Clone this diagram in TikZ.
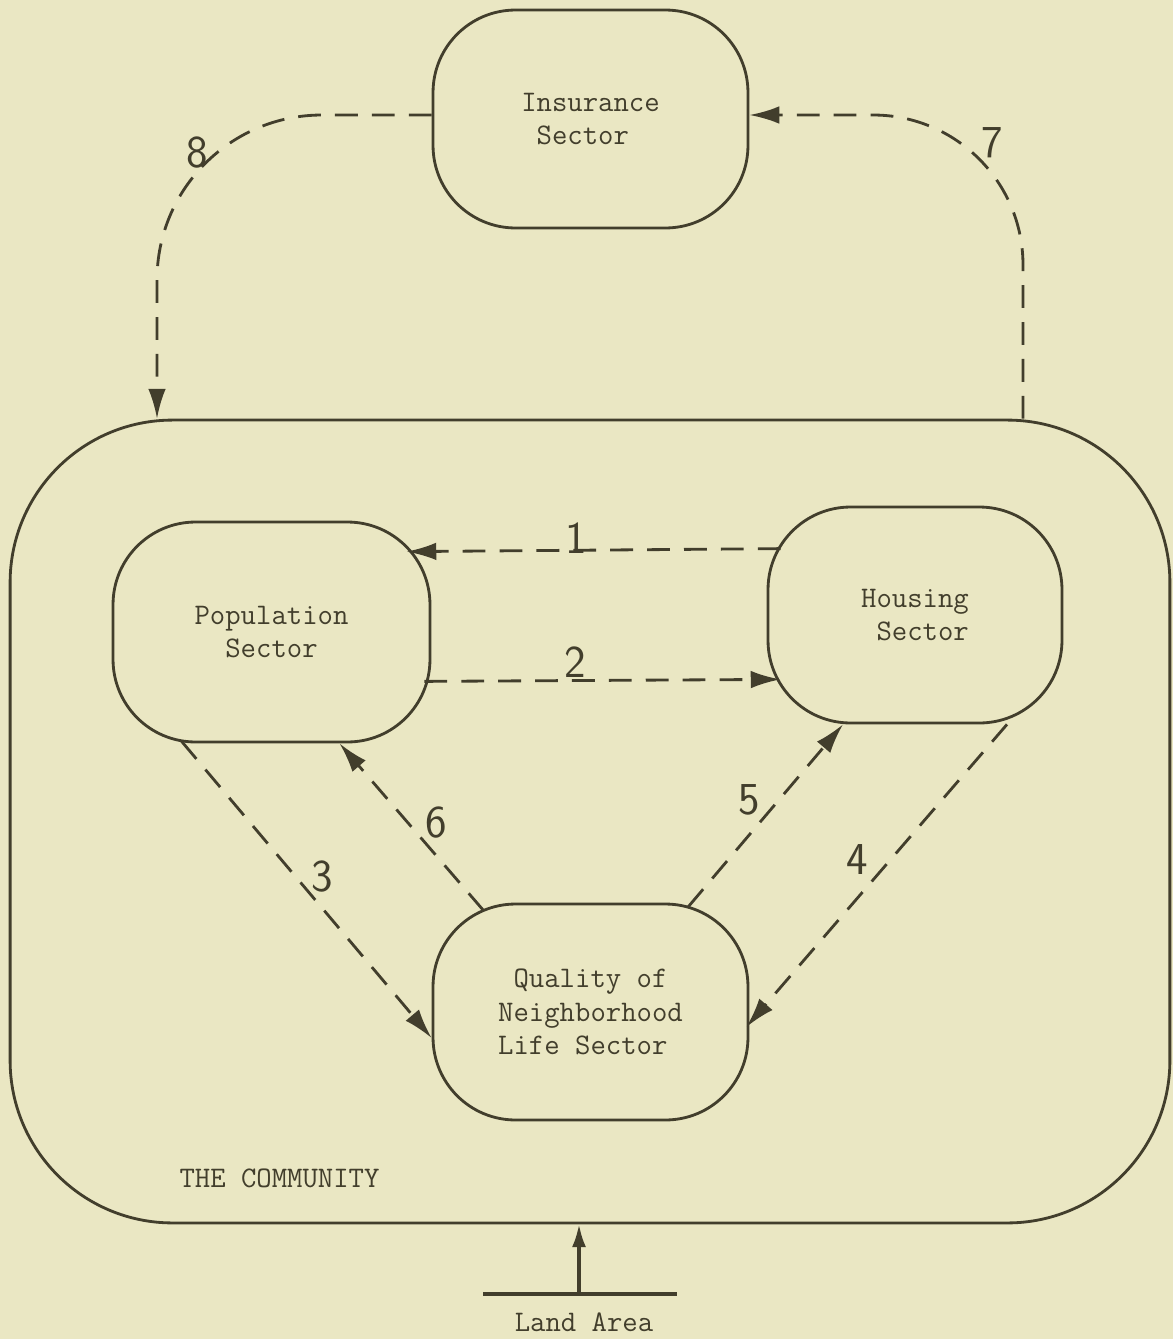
\documentclass[tikz,border=0pt]{standalone}
\usetikzlibrary{arrows.meta,calc}
\definecolor{paper}{RGB}{234,231,195}
\definecolor{ink}{RGB}{66,62,44}
\begin{document}
\begin{tikzpicture}[x=.02cm,y=-.02cm,
                    sector/.style={draw=ink,line width=1.6pt,rounded corners=1.65cm,
                                   inner sep=0pt,align=left,text=ink,
                                   font=\fontsize{17}{19}\ttfamily},
                    caption/.style={text=ink,font=\fontsize{17}{19}\ttfamily},
                    flow/.style={draw=ink,line width=1.6pt,dash pattern=on 13pt off 8pt,
                                 -{Latex[length=17pt,width=10pt]}},
                    num/.style={text=ink,font=\fontsize{26}{26}\sffamily}]
 \path[use as bounding box,fill=paper] (0,0) rectangle (1173,1339);
 \node[sector,minimum width=23.2cm,minimum height=16.06cm,rounded corners=3.25cm]
      (comm) at (590,821.5) {};
 \node[caption] (title) at (279.5,1178) {THE COMMUNITY};
 \node[sector,minimum width=6.3cm,minimum height=4.36cm] (ins) at (590.5,119)
      {Insurance\\\hphantom{I}Sector};
 \node[sector,minimum width=6.34cm,minimum height=4.4cm] (pop) at (271.5,632)
      {Population\\\hphantom{Po}Sector};
 \node[sector,minimum width=5.88cm,minimum height=4.32cm] (house) at (915,615)
      {Housing\\\hphantom{H}Sector};
 \node[sector,minimum width=6.3cm,minimum height=4.32cm] (qual) at (590.5,1012)
      {\hphantom{Q}Quality of\\Neighborhood\\Life Sector};
 \draw[flow] ($(house.north west)+(14,43)$) -- ($(pop.north east)+(-25,31)$);
 \draw[flow] ($(pop.south east)+(-7,-62)$) -- ($(house.south west)+(14,-45)$);
 \draw[flow] ($(pop.south west)+(70,-2)$) -- ($(qual.west)+(0,26)$);
 \draw[flow] ($(house.south)+(92,0)$) -- ($(qual.east)+(-3,15)$);
 \draw[flow] ($(qual.north east)+(-61,4)$) -- ($(house.south)+(-72,0)$);
 \draw[flow] ($(qual.north west)+(52,8)$) -- ($(pop.south)+(68,0)$);
 \draw[flow,rounded corners=3cm] ($(comm.north)+(433,0)$) |- ($(ins.east)+(0,-4)$);
 \draw[flow,rounded corners=3.3cm] ($(ins.west)+(0,-4)$) -| ($(comm.north)+(-433,0)$);
 \node[num] (n1) at (576,538) {1};
 \node[num] (n2) at (575,662) {2};
 \node[num] (n3) at (322,877) {3};
 \node[num] (n4) at (857,860) {4};
 \node[num] (n5) at (749,800) {5};
 \node[num] (n6) at (436,823) {6};
 \node[num] (n7) at (992,143) {7};
 \node[num] (n8) at (197,153) {8};
 \coordinate (ground) at (579,1294);
 \node[caption] (land) at (584,1322) {Land Area};
 \draw[ink,line width=1.8pt] ($(ground)+(-96,0)$) -- ($(ground)+(98,0)$);
 \draw[ink,line width=1.8pt,-{Latex[length=13pt,width=8pt]}] (ground) -- (ground |- comm.south);
\end{tikzpicture}
\end{document}
